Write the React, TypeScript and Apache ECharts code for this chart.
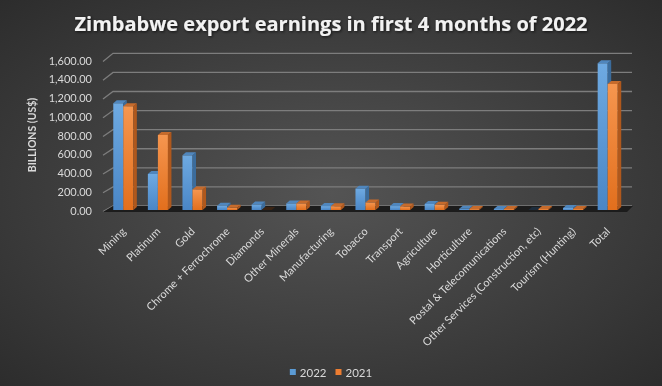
import React, { useEffect, useRef } from "react";
import * as echarts from "echarts";

const categories = [
  "Mining",
  "Platinum",
  "Gold",
  "Chrome + Ferrochrome",
  "Diamonds",
  "Other Minerals",
  "Manufacturing",
  "Tobacco",
  "Transport",
  "Agriculture",
  "Horticulture",
  "Postal & Telecomunications",
  "Other Services (Construction, etc)",
  "Tourism (Hunting)",
  "Total",
];
const values2022 = [1140, 384, 583, 45, 60, 70, 42, 228, 42, 65, 14, 12, 0, 22, 1565];
const values2021 = [1108, 800, 220, 25, 0, 70, 40, 80, 38, 55, 10, 12, 12, 12, 1345];
const yTicks = [0, 200, 400, 600, 800, 1000, 1200, 1400, 1600];
const seriesNames = ["2022", "2021"];

const FONT = "Lato, 'Open Sans', sans-serif";

export default function App() {
  const ref = useRef<HTMLDivElement>(null);
  useEffect(() => {
    if (!ref.current) return;
    const chart = echarts.init(ref.current, undefined, { renderer: "svg" });

    const palettes = [
      { front: ["#6eaae2", "#4a86c6"], side: "#3b6c9c", top: "#4f86bd", zero: "#1d2c3b" },
      { front: ["#f6964f", "#e26f1d"], side: "#b0581c", top: "#c66b2c", zero: "#3a2414" },
    ];

    const makeBarRender = (si: number) => (params: any, api: any) => {
      const idx = api.value(0);
      const v = api.value(1);
      const top = api.coord([idx, v]);
      const base = api.coord([idx, 0]);
      const bw = api.size([1, 0])[0] * 0.29;
      const cx = top[0];
      const x0 = si === 0 ? cx - bw : cx;
      const x1 = x0 + bw;
      const yt = top[1];
      const yb = base[1];
      const dx = 3.5;
      const dy = 3;
      const p = palettes[si];
      const children: any[] = [];
      if (yb - yt > 0.3) {
        children.push({
          type: "rect",
          shape: { x: x0, y: yt, width: bw, height: yb - yt },
          style: {
            fill: new echarts.graphic.LinearGradient(0, 0, 0, 1, [
              { offset: 0, color: p.front[0] },
              { offset: 1, color: p.front[1] },
            ]),
          },
        });
        children.push({
          type: "polygon",
          shape: { points: [[x1, yt], [x1 + dx, yt - dy], [x1 + dx, yb - dy], [x1, yb]] },
          style: { fill: p.side },
        });
      }
      children.push({
        type: "polygon",
        shape: { points: [[x0, yt], [x1, yt], [x1 + dx, yt - dy], [x0 + dx, yt - dy]] },
        style: { fill: v === 0 ? p.zero : p.top },
      });
      return { type: "group", children };
    };

    const gridRender = (params: any, api: any) => {
      const cs = params.coordSys;
      const v = api.value(1);
      const y = api.coord([0, v])[1];
      const off = -4 - 2.7 * (v / 1600);
      return {
        type: "polyline",
        shape: {
          points: [
            [cs.x - 3, y + 1.5],
            [cs.x + 7, y + off],
            [cs.x + cs.width + 7, y + off],
          ],
        },
        style: { stroke: "#7d7d7d", lineWidth: 1.3, fill: "none" },
      };
    };

    const floorRender = (params: any, api: any) => {
      const cs = params.coordSys;
      const y = api.coord([0, 0])[1];
      return {
        type: "polygon",
        shape: {
          points: [
            [cs.x - 3, y + 2],
            [cs.x + cs.width + 2, y + 2],
            [cs.x + cs.width + 8, y - 4],
            [cs.x + 7, y - 4],
          ],
        },
        style: { fill: "#1c1c1c" },
      };
    };

    const option: any = {
      animation: false,
      backgroundColor: {
        type: "radial",
        x: 0.5,
        y: 0.5,
        r: 0.75,
        colorStops: [
          { offset: 0, color: "#545454" },
          { offset: 1, color: "#2a2a2a" },
        ],
      },
      title: {
        text: "Zimbabwe export earnings in first 4 months of 2022",
        left: "center",
        top: 8,
        textStyle: {
          color: "#f2f2f2",
          fontFamily: "'Open Sans', sans-serif",
          fontWeight: "bold",
          fontSize: 20,
          textShadowColor: "rgba(0,0,0,0.7)",
          textShadowBlur: 3,
          textShadowOffsetX: 1,
          textShadowOffsetY: 1,
        },
      },
      legend: {
        data: [
          { name: "2022", itemStyle: { color: "#5b9bd5" } },
          { name: "2021", itemStyle: { color: "#ed7d31" } },
        ],
        top: 361,
        left: "center",
        icon: "rect",
        itemWidth: 6,
        itemHeight: 6,
        itemGap: 9,
        textStyle: { color: "#d9d9d9", fontSize: 11.5, fontFamily: FONT, padding: [0, 0, 0, -1] },
      },
      grid: { left: 106, right: 37, top: 60, bottom: 176 },
      xAxis: {
        type: "category",
        data: categories,
        axisLine: { show: false },
        axisTick: { show: false },
        axisLabel: {
          interval: 0,
          rotate: 45,
          margin: 19,
          color: "#d9d9d9",
          fontSize: 11,
          fontFamily: FONT,
        },
      },
      yAxis: {
        type: "value",
        min: 0,
        max: 1600,
        interval: 200,
        axisLine: { show: false },
        axisTick: { show: false },
        splitLine: { show: false },
        axisLabel: {
          margin: 14,
          color: "#d9d9d9",
          fontSize: 11,
          fontFamily: FONT,
          formatter: (v: number) =>
            v.toLocaleString("en-US", { minimumFractionDigits: 2, maximumFractionDigits: 2 }),
        },
        name: "BILLIONS (US$)",
        nameLocation: "middle",
        nameRotate: 90,
        nameGap: 61,
        nameTextStyle: { color: "#d9d9d9", fontSize: 10.5, fontWeight: "bold", fontFamily: FONT },
      },
      series: [
        {
          type: "custom",
          name: "grid",
          silent: true,
          z: 1,
          renderItem: gridRender,
          data: yTicks.map((t) => [0, t]),
          encode: { x: 0, y: 1 },
        },
        {
          type: "custom",
          name: "floor",
          silent: true,
          z: 2,
          renderItem: floorRender,
          data: [[0, 0]],
          encode: { x: 0, y: 1 },
        },
        {
          type: "custom",
          name: seriesNames[0],
          z: 3,
          itemStyle: { color: "#5b9bd5" },
          renderItem: makeBarRender(0),
          data: values2022.map((v, i) => [i, v]),
          encode: { x: 0, y: 1 },
        },
        {
          type: "custom",
          name: seriesNames[1],
          z: 3,
          itemStyle: { color: "#ed7d31" },
          renderItem: makeBarRender(1),
          data: values2021.map((v, i) => [i, v]),
          encode: { x: 0, y: 1 },
        },
      ],
    };
    chart.setOption(option);
    return () => chart.dispose();
  }, []);
  return (
    <div
      ref={ref}
      style={{ position: "fixed", left: 0, top: 0, width: 662, height: 386 }}
    />
  );
}
